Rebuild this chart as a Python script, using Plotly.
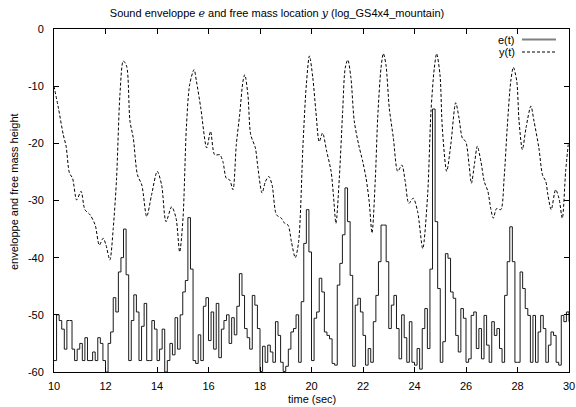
import numpy as np
import plotly.graph_objects as go

# ---- data ----
e_start = 10.0
e_step = 0.1
e_values = [
    -58, -50, -51, -52.5, -56, -51, -51, -56, -58, -56,
    -55, -58, -54, -58, -58, -56.5, -58, -54, -55, -58,
    -60, -55, -53, -47, -49.5, -42.5, -40, -35, -43, -58,
    -51, -46.5, -49.5, -58, -52, -48, -58, -58, -51, -52.5,
    -58, -56, -52.5, -60, -58, -55, -57, -50.5, -56, -50,
    -46, -44, -33, -42, -58, -58.5, -53.5, -58, -48.5, -47,
    -54.5, -49.5, -56, -48, -57.5, -52.5, -51, -50, -55, -50.5,
    -53.5, -48.5, -42.8, -46.6, -52.4, -54, -56, -46.6, -48.3, -52.4,
    -59.9, -55.5, -58.3, -55.3, -56.5, -58.3, -51.2, -53.6, -58.3, -59.9,
    -59, -56, -53, -52.4, -50, -58.3, -47.7, -37.5, -31.6, -39,
    -58, -50.6, -49.5, -43.6, -46, -53, -53.6, -54.2, -58.5, -58.8,
    -44.8, -41, -36, -27.8, -33.7, -43.1, -59, -48.3, -47.1, -49.5,
    -53.6, -58.8, -55.9, -58.3, -51.2, -46.6, -40.7, -34.3, -34.3, -40.7,
    -52.4, -48.3, -46.6, -52.4, -57.7, -50, -54, -58.3, -51.2, -58.3,
    -58.8, -55.9, -59.5, -52.4, -48.9, -55.9, -42, -14, -33.7, -45.4,
    -58.3, -54.7, -39.3, -40.1, -46, -47.1, -53.6, -56.5, -48.9, -50.6,
    -58.3, -57.7, -50.1, -49.5, -55.9, -52.4, -57.7, -50.1, -55.3, -58.3,
    -51.2, -53.6, -52.4, -55.9, -58.3, -46.6, -40.7, -34.6, -40.7, -58.3,
    -58.3, -42.5, -45.4, -48.9, -50.1, -58.3, -50.1, -58.3, -53, -50.1,
    -52.4, -58.3, -55.3, -53, -53.6, -58.3, -58.8, -50.1, -51.2, -49.5,
    -51.2,
]
e_time = [round(e_start + i * e_step, 2) for i in range(len(e_values))]

y_time = [
    10.0, 10.17, 10.36, 10.47, 10.6, 10.72, 10.88, 11.05, 11.2, 11.4,
    11.6, 11.76, 11.91, 12.02, 12.17, 12.3, 12.43, 12.56, 12.69, 12.82,
    12.95, 13.08, 13.24, 13.41, 13.6, 13.79, 14.01, 14.18, 14.35, 14.57,
    14.74, 14.88, 15.01, 15.14, 15.27, 15.44, 15.53, 15.7, 15.93, 16.08,
    16.24, 16.44, 16.56, 16.69, 16.82, 16.95, 17.08, 17.21, 17.34, 17.41,
    17.53, 17.64, 17.82, 17.92, 18.08, 18.21, 18.34, 18.47, 18.64, 18.83,
    18.96, 19.09, 19.22, 19.37, 19.5, 19.67, 19.8, 19.92, 20.05, 20.17,
    20.3, 20.43, 20.59, 20.76, 20.85, 20.95, 21.08, 21.21, 21.31, 21.41,
    21.53, 21.66, 21.83, 21.99, 22.12, 22.24, 22.35, 22.48, 22.57, 22.7,
    22.79, 22.89, 23.02, 23.18, 23.35, 23.51, 23.64, 23.78, 23.95, 24.12,
    24.32, 24.51, 24.64, 24.77, 24.86, 24.99, 25.08, 25.25, 25.41, 25.6,
    25.73, 25.86, 25.99, 26.12, 26.21, 26.34, 26.44, 26.58, 26.71, 26.85,
    26.96, 27.06, 27.19, 27.35, 27.48, 27.6, 27.74, 27.84, 27.97, 28.06,
    28.19, 28.33, 28.52, 28.64, 28.83, 28.97, 29.1, 29.18, 29.31, 29.48,
    29.61, 29.74, 29.87, 29.97,
]
y_values = [
    -10.0, -13.8, -18.5, -20.5, -25.2, -26.1, -29.9, -28.4, -31.6, -32.5,
    -34.3, -37.8, -36.6, -37.8, -40.4, -34.9, -26.1, -11.5, -5.6, -6.5,
    -16.1, -19.1, -25.5, -27.3, -32.8, -29.0, -24.9, -27.3, -33.7, -31.1,
    -33.1, -39.0, -33.1, -17.3, -9.7, -7.1, -9.1, -13.8, -20.8, -17.9,
    -22.0, -22.0, -23.2, -26.1, -26.4, -28.1, -20.2, -15.0, -9.1, -8.0,
    -11.5, -18.5, -20.8, -24.3, -28.7, -26.7, -25.8, -27.3, -32.5, -33.1,
    -34.0, -34.3, -37.2, -40.0, -37.2, -20.2, -9.7, -4.7, -8.5, -14.4,
    -19.7, -18.2, -21.4, -24.9, -29.0, -34.0, -26.1, -14.4, -6.8, -5.4,
    -8.5, -16.1, -20.2, -23.2, -26.1, -30.2, -35.7, -26.1, -15.6, -6.8,
    -4.3, -6.2, -13.8, -19.1, -24.9, -23.8, -26.7, -30.5, -29.6, -31.9,
    -38.4, -29.0, -14.4, -6.8, -4.3, -8.0, -17.3, -24.9, -20.2, -12.9,
    -15.6, -19.1, -19.7, -23.8, -27.0, -23.2, -20.5, -23.2, -26.7, -28.4,
    -31.4, -33.1, -31.4, -31.6, -26.1, -17.3, -9.1, -6.7, -9.1, -16.1,
    -21.1, -17.3, -13.5, -16.1, -20.8, -25.5, -26.7, -29.0, -31.6, -28.1,
    -29.6, -33.1, -24.9, -20.2,
]

x_ticks = [10, 12, 14, 16, 18, 20, 22, 24, 26, 28, 30]
y_ticks = [0, -10, -20, -30, -40, -50, -60]
y_tick_text = ["0", "-10", "-20", "-30", "-40", "-50", "-60"]

# ---- figure ----
W, H = 576, 407
ML, MR, MT, MB = 54, 7, 29, 35
FONT = "Liberation Sans, Arial, sans-serif"

fig = go.Figure()
fig.add_trace(go.Scatter(
    x=e_time, y=e_values, mode="lines", line_shape="hv",
    line=dict(color="#1a1a1a", width=1), name="e(t)", showlegend=False,
))
fig.add_trace(go.Scatter(
    x=y_time, y=y_values, mode="lines", line_shape="spline",
    line=dict(color="#000000", width=1, dash="3px,2px", smoothing=0.8),
    name="y(t)", showlegend=False,
))

pw = W - ML - MR
ph = H - MT - MB
def px_to_paper_x(px):
    return (px - ML) / pw
def py_to_paper_y(py):
    return (H - MB - py) / ph

# legend (gnuplot style: text left, sample right)
leg_rows = [("e(t)", 39.5, dict(color="#808080", width=2)),
            ("y(t)", 52.0, dict(color="#000000", width=1, dash="3px,2px"))]
for label, py, ln in leg_rows:
    fig.add_annotation(x=px_to_paper_x(517), y=py_to_paper_y(py), xref="paper", yref="paper",
                       text=label, showarrow=False, xanchor="right", yanchor="middle",
                       font=dict(family=FONT, size=11, color="#000"))
    fig.add_shape(type="line", xref="paper", yref="paper",
                  x0=px_to_paper_x(522), x1=px_to_paper_x(556),
                  y0=py_to_paper_y(py), y1=py_to_paper_y(py), line=ln)

# axis titles
fig.add_annotation(x=px_to_paper_x(311.5), y=py_to_paper_y(399), xref="paper", yref="paper",
                   text="time (sec)", showarrow=False, xanchor="center", yanchor="middle",
                   font=dict(family=FONT, size=11, color="#000"))
fig.add_annotation(x=px_to_paper_x(14), y=py_to_paper_y(192), xref="paper", yref="paper",
                   text="enveloppe and free mass height", showarrow=False, textangle=-90,
                   xanchor="center", yanchor="middle",
                   font=dict(family=FONT, size=11, color="#000"))

fig.update_layout(
    width=W, height=H,
    margin=dict(l=ML, r=MR, t=MT, b=MB, pad=0, autoexpand=False),
    paper_bgcolor="white", plot_bgcolor="white",
    font=dict(family=FONT, size=11, color="#000"),
    title=dict(
        text="Sound enveloppe <span style=\"font-family:'DejaVu Serif', serif\"><i>e</i></span> and free mass location "
             "<span style=\"font-family:'DejaVu Serif', serif\"><i>y</i></span> (log_GS4x4_mountain)",
        x=277 / W, xanchor="center", y=1 - 13 / H, yanchor="middle", automargin=False,
        font=dict(family=FONT, size=11, color="#000"),
    ),
    xaxis=dict(
        range=[10, 30], tickvals=x_ticks, ticktext=[str(v) for v in x_ticks],
        ticks="inside", ticklen=5, tickcolor="#000", mirror="ticks",
        showline=True, linecolor="#000", linewidth=1, showgrid=False, zeroline=False,
        automargin=False, ticklabelstandoff=4,
    ),
    yaxis=dict(
        range=[-60, 0], tickvals=y_ticks, ticktext=y_tick_text,
        ticks="inside", ticklen=5, tickcolor="#000", mirror="ticks",
        showline=True, linecolor="#000", linewidth=1, showgrid=False, zeroline=False,
        automargin=False, ticklabelstandoff=7,
    ),
)

fig.write_html(
    "out.html",
    config={"displayModeBar": False},
    post_script="document.body.style.margin='0';document.body.style.padding='0';",
)
